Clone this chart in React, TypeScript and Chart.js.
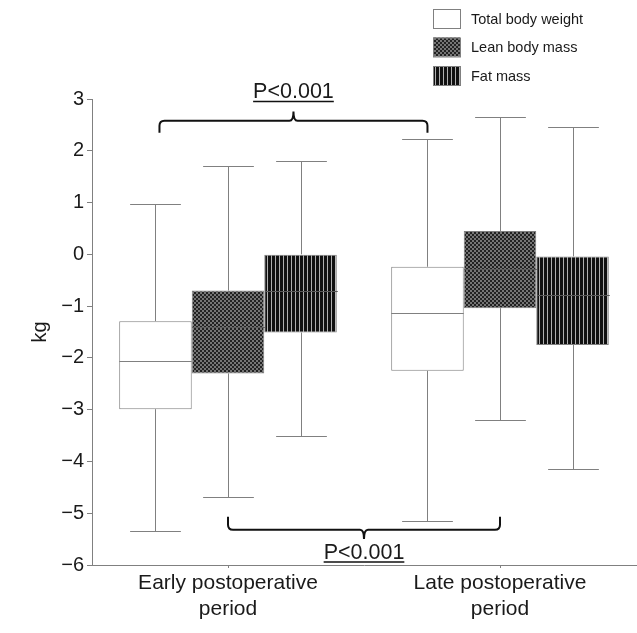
import React, { useEffect, useRef } from 'react';
import { Chart, registerables } from 'chart.js';

Chart.register(...registerables);

// ---------- data ----------
const categories: string[][] = [['Early postoperative', 'period'], ['Late postoperative', 'period']];
const seriesNames = ['Total body weight', 'Lean body mass', 'Fat mass'];

const totalMin = [-5.35, -5.15];
const totalQ1 = [-2.99, -2.25];
const totalMedian = [-2.06, -1.14];
const totalQ3 = [-1.29, -0.24];
const totalMax = [0.97, 2.22];

const leanMin = [-4.69, -3.2];
const leanQ1 = [-2.3, -1.04];
const leanMedian = [-1.4, -0.29];
const leanQ3 = [-0.7, 0.45];
const leanMax = [1.7, 2.66];

const fatMin = [-3.51, -4.15];
const fatQ1 = [-1.51, -1.75];
const fatMedian = [-0.7, -0.79];
const fatQ3 = [0.0, -0.04];
const fatMax = [1.81, 2.45];

const yMin = -6;
const yMax = 3;
const yStep = 1;
const yTitle = 'kg';

const pLabel = 'P<0.001';
// top bracket (Total body weight: early vs late)
const topBracketLine = 2.58;
const topBracketEnds = 2.35;
const topBracketTip = 2.76;
// bottom bracket (Lean body mass: early vs late)
const bottomBracketLine = -5.32;
const bottomBracketEnds = -5.07;
const bottomBracketTip = -5.5;

const FONT = '"Liberation Sans", Arial, Helvetica, sans-serif';
const TEXT = '#1a1a1a';
const GRAY = '#808080';

function makeLeanPattern(ctx: CanvasRenderingContext2D) {
  const c = document.createElement('canvas');
  c.width = 4;
  c.height = 4;
  const g = c.getContext('2d')!;
  g.fillStyle = '#222222';
  g.fillRect(0, 0, 4, 4);
  g.fillStyle = '#757575';
  g.fillRect(0, 0, 2, 2);
  g.fillRect(2, 2, 2, 2);
  return ctx.createPattern(c, 'repeat')!;
}

function makeFatPattern(ctx: CanvasRenderingContext2D) {
  const c = document.createElement('canvas');
  c.width = 4;
  c.height = 4;
  const g = c.getContext('2d')!;
  g.fillStyle = '#111111';
  g.fillRect(0, 0, 4, 4);
  g.fillStyle = '#b0b0b0';
  g.fillRect(3, 0, 1, 4);
  return ctx.createPattern(c, 'repeat')!;
}

export default function App() {
  const ref = useRef<HTMLCanvasElement>(null);

  useEffect(() => {
    const canvas = ref.current!;
    const ctx0 = canvas.getContext('2d')!;
    const fills: (string | CanvasPattern)[] = ['#ffffff', makeLeanPattern(ctx0), makeFatPattern(ctx0)];

    const stats = [
      { min: totalMin, q1: totalQ1, med: totalMedian, q3: totalQ3, max: totalMax },
      { min: leanMin, q1: leanQ1, med: leanMedian, q3: leanQ3, max: leanMax },
      { min: fatMin, q1: fatQ1, med: fatMedian, q3: fatQ3, max: fatMax },
    ];

    const boxPlugin = {
      id: 'boxWhiskers',
      afterDatasetsDraw(chart: any) {
        const ctx = chart.ctx as CanvasRenderingContext2D;
        const y = chart.scales.y;
        ctx.save();
        ctx.lineWidth = 1;
        stats.forEach((s, i) => {
          const meta = chart.getDatasetMeta(i);
          meta.data.forEach((bar: any, j: number) => {
            const x = Math.round(bar.x) + 0.5;
            const w = bar.width;
            const cap = w * 0.35;
            const pMax = Math.round(y.getPixelForValue(s.max[j])) + 0.5;
            const pMin = Math.round(y.getPixelForValue(s.min[j])) + 0.5;
            const pQ3 = y.getPixelForValue(s.q3[j]);
            const pQ1 = y.getPixelForValue(s.q1[j]);
            const pMed = Math.round(y.getPixelForValue(s.med[j])) + 0.5;
            ctx.strokeStyle = GRAY;
            ctx.beginPath();
            ctx.moveTo(x, pQ3);
            ctx.lineTo(x, pMax);
            ctx.moveTo(x - cap, pMax);
            ctx.lineTo(x + cap, pMax);
            ctx.moveTo(x, pQ1);
            ctx.lineTo(x, pMin);
            ctx.moveTo(x - cap, pMin);
            ctx.lineTo(x + cap, pMin);
            ctx.stroke();
            ctx.strokeStyle = i === 0 ? GRAY : '#5a5a5a';
            ctx.beginPath();
            ctx.moveTo(x - w / 2, pMed);
            ctx.lineTo(x + w / 2, pMed);
            ctx.stroke();
          });
        });
        ctx.restore();
      },
    };

    const drawBracket = (
      ctx: CanvasRenderingContext2D,
      x1: number,
      x2: number,
      yl: number,
      ye: number,
      yt: number,
    ) => {
      const r = 5;
      const dirEnd = ye > yl ? 1 : -1;
      const xm = (x1 + x2) / 2;
      ctx.beginPath();
      ctx.moveTo(x1, ye);
      ctx.lineTo(x1, yl + dirEnd * r);
      ctx.quadraticCurveTo(x1, yl, x1 + r, yl);
      ctx.lineTo(xm - 4, yl);
      ctx.quadraticCurveTo(xm, yl, xm, yt);
      ctx.quadraticCurveTo(xm, yl, xm + 4, yl);
      ctx.lineTo(x2 - r, yl);
      ctx.quadraticCurveTo(x2, yl, x2, yl + dirEnd * r);
      ctx.lineTo(x2, ye);
      ctx.stroke();
    };

    const drawUnderlined = (ctx: CanvasRenderingContext2D, text: string, cx: number, baseline: number) => {
      ctx.font = `21.5px ${FONT}`;
      ctx.textAlign = 'center';
      ctx.textBaseline = 'alphabetic';
      ctx.fillStyle = TEXT;
      ctx.fillText(text, cx, baseline);
      const w = ctx.measureText(text).width;
      ctx.beginPath();
      ctx.lineWidth = 1.5;
      ctx.moveTo(cx - w / 2, baseline + 3);
      ctx.lineTo(cx + w / 2, baseline + 3);
      ctx.stroke();
    };

    const annotationPlugin = {
      id: 'annotations',
      afterDraw(chart: any) {
        const ctx = chart.ctx as CanvasRenderingContext2D;
        const y = chart.scales.y;
        ctx.save();
        ctx.strokeStyle = '#111';
        ctx.lineWidth = 2;
        // top bracket between Total body weight boxes
        const m0 = chart.getDatasetMeta(0).data;
        const tx1 = m0[0].x + 4;
        const tx2 = m0[1].x;
        const tTip = y.getPixelForValue(topBracketTip);
        drawBracket(ctx, tx1, tx2, y.getPixelForValue(topBracketLine), y.getPixelForValue(topBracketEnds), tTip);
        drawUnderlined(ctx, pLabel, (tx1 + tx2) / 2, tTip - 13);
        // bottom bracket between Lean body mass boxes
        ctx.lineWidth = 2;
        const m1 = chart.getDatasetMeta(1).data;
        const bx1 = m1[0].x;
        const bx2 = m1[1].x;
        const bTip = y.getPixelForValue(bottomBracketTip);
        drawBracket(ctx, bx1, bx2, y.getPixelForValue(bottomBracketLine), y.getPixelForValue(bottomBracketEnds), bTip);
        drawUnderlined(ctx, pLabel, (bx1 + bx2) / 2, bTip + 20);

        // legend
        const lx = 433;
        const ly = 9;
        const bw = 27;
        const bh = 19;
        const gap = 28.5;
        ctx.font = `14.5px ${FONT}`;
        ctx.textAlign = 'left';
        ctx.textBaseline = 'middle';
        chart.data.datasets.forEach((ds: any, i: number) => {
          const top = ly + i * gap;
          ctx.fillStyle = ds.backgroundColor;
          ctx.fillRect(lx, top, bw, bh);
          ctx.strokeStyle = GRAY;
          ctx.lineWidth = 1;
          ctx.strokeRect(lx + 0.5, top + 0.5, bw, bh);
          ctx.fillStyle = TEXT;
          ctx.fillText(ds.label, lx + 38, top + bh / 2 + 1);
        });
        ctx.restore();
      },
    };

    const chart = new Chart(canvas, {
      type: 'bar',
      data: {
        labels: categories,
        datasets: stats.map((s, i) => ({
          label: seriesNames[i],
          data: s.q1.map((q1, j) => [q1, s.q3[j]]),
          backgroundColor: fills[i],
          borderColor: GRAY,
          borderWidth: 1,
          borderSkipped: false,
          categoryPercentage: 0.8,
          barPercentage: 1.0,
        })),
      },
      options: {
        responsive: false,
        animation: false,
        layout: { padding: { top: 99, right: 1, left: 0, bottom: 0 } },
        plugins: {
          legend: { display: false },
          tooltip: { enabled: false },
        },
        scales: {
          x: {
            grid: { display: true, drawOnChartArea: false, drawTicks: true, tickLength: 3, offset: false, color: GRAY },
            border: { color: GRAY, width: 1 },
            ticks: {
              color: TEXT,
              font: { family: FONT, size: 21, lineHeight: 1.24 },
              padding: 2,
              maxRotation: 0,
            },
            afterFit(scale: any) {
              scale.height = 68;
            },
          },
          y: {
            min: yMin,
            max: yMax,
            grid: { display: true, drawOnChartArea: false, drawTicks: true, tickLength: 5, color: GRAY },
            border: { color: GRAY, width: 1 },
            ticks: {
              stepSize: yStep,
              color: TEXT,
              padding: 3,
              font: { family: FONT, size: 20 },
              callback: (v: any) => (Number(v) < 0 ? '\u2212' + Math.abs(Number(v)) : String(v)),
            },
            title: {
              display: true,
              text: yTitle,
              color: TEXT,
              font: { family: FONT, size: 20 },
              padding: { top: 28, bottom: 0 },
            },
            afterFit(scale: any) {
              scale.width = 92;
            },
          },
        },
      },
      plugins: [boxPlugin, annotationPlugin],
    });

    return () => chart.destroy();
  }, []);

  return (
    <div style={{ position: 'absolute', left: 0, top: 0, width: 637, height: 633, background: '#fff' }}>
      <canvas ref={ref} width={637} height={633} />
    </div>
  );
}
